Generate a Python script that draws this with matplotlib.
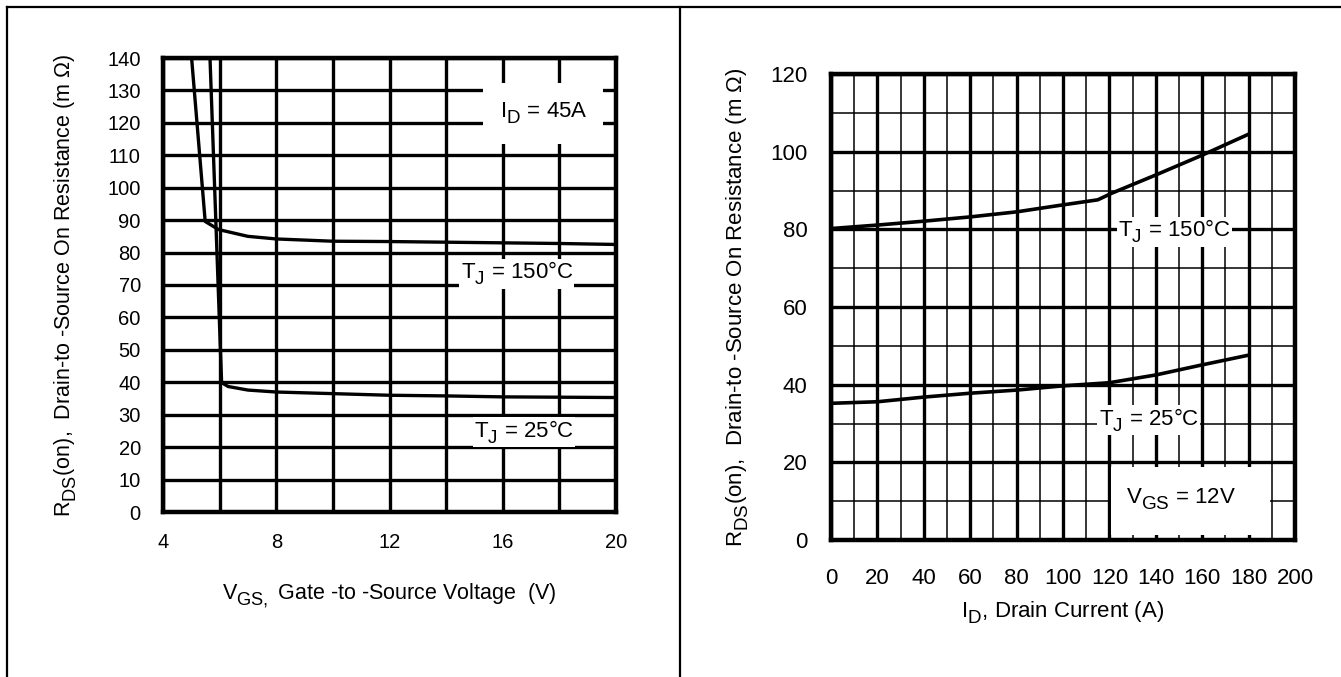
import matplotlib
matplotlib.use("Agg")
import matplotlib.pyplot as plt
import matplotlib._mathtext as mathtext_internal
from matplotlib.patches import Rectangle
from matplotlib.lines import Line2D

plt.rcParams['font.family'] = ['Liberation Sans', 'DejaVu Sans']
plt.rcParams['mathtext.fontset'] = 'custom'
plt.rcParams['mathtext.rm'] = 'Liberation Sans'
plt.rcParams['mathtext.it'] = 'Liberation Sans'
# datasheet subscripts are nearly full size and sit low
mathtext_internal.SHRINK_FACTOR = 0.85
mathtext_internal.FontConstantsBase.sub1 = 0.55
mathtext_internal.FontConstantsBase.sub2 = 0.65

# left chart: Rds(on) vs Vgs, Id = 45A
vgs_150 = [5.01, 5.49, 5.96, 7.0, 8.0, 10.0, 12.0, 14.0, 16.0, 18.0, 20.0]
rds_150 = [140, 89.6, 87.1, 85.0, 84.2, 83.5, 83.4, 83.2, 83.0, 82.8, 82.5]
vgs_25 = [5.66, 6.07, 6.3, 7.0, 8.0, 10.0, 12.0, 14.0, 16.0, 18.0, 20.0]
rds_25 = [140, 39.9, 38.7, 37.6, 37.0, 36.5, 36.0, 35.8, 35.5, 35.4, 35.3]

# right chart: Rds(on) vs Id, Vgs = 12V
id_150 = [0, 20, 40, 60, 80, 100, 115, 121, 140, 160, 180]
rid_150 = [80.2, 81.1, 82.1, 83.2, 84.5, 86.3, 87.6, 89.3, 94.0, 99.1, 104.5]
id_25 = [0, 20, 40, 60, 80, 100, 120, 140, 160, 180]
rid_25 = [35.2, 35.6, 36.8, 37.8, 38.6, 39.7, 40.5, 42.5, 45.1, 47.6]

left_xticks = [4, 8, 12, 16, 20]
left_yticks = list(range(0, 141, 10))
right_xticks = list(range(0, 201, 20))
right_yticks = list(range(0, 121, 20))

W, H = 1341, 677
fig = plt.figure(figsize=(W / 100, H / 100), dpi=100)

def box(l, t, r, b):
    return [l / W, 1 - b / H, (r - l) / W, (b - t) / H]

ylab = r'R$_{\mathrm{DS}}$(on),  Drain-to -Source On Resistance (m $\Omega$)'

# ---- left
ax1 = fig.add_axes(box(163, 58, 616, 512))
ax1.set_xlim(4, 20)
ax1.set_ylim(0, 140)
ax1.set_xticks(left_xticks)
ax1.set_xticks([6, 10, 14, 18], minor=True)
ax1.set_yticks(left_yticks)
ax1.set_axisbelow(True)
ax1.grid(which='both', color='black', lw=2.4)
ax1.tick_params(which='both', length=0, labelsize=14.5)
ax1.tick_params(axis='x', pad=15)
ax1.tick_params(axis='y', pad=16)
for s in ax1.spines.values():
    s.set_linewidth(3.2)
ax1.plot(vgs_150, rds_150, color='black', lw=2.4, zorder=2)
ax1.plot(vgs_25, rds_25, color='black', lw=2.4, zorder=2)
ax1.add_patch(Rectangle((15.3, 113.4), 4.25, 18.8, facecolor='white', edgecolor='none', zorder=1))
ax1.text(17.45, 123, r'I$_{\mathrm{D}}$ = 45A', fontsize=16, ha='center', va='center', zorder=3)
ax1.text(16.5, 73.5, r'T$_{\mathrm{J}}$ = 150°C', fontsize=16, ha='center', va='center', zorder=3,
         bbox=dict(facecolor='white', edgecolor='none', pad=1.0))
ax1.text(16.75, 24.6, r'T$_{\mathrm{J}}$ = 25°C', fontsize=16, ha='center', va='center', zorder=3,
         bbox=dict(facecolor='white', edgecolor='none', pad=1.0))
ax1.set_xlabel(r'V$_{\mathrm{GS,}}$ Gate -to -Source Voltage  (V)', fontsize=15.5, labelpad=22)
ax1.set_ylabel(ylab, fontsize=15.5, labelpad=20)

# ---- right
ax2 = fig.add_axes(box(831, 74, 1295, 540))
ax2.set_xlim(0, 200)
ax2.set_ylim(0, 120)
ax2.set_xticks(right_xticks)
ax2.set_xticks(list(range(10, 200, 20)), minor=True)
ax2.set_yticks(right_yticks)
ax2.set_yticks(list(range(10, 120, 20)), minor=True)
ax2.set_axisbelow(True)
ax2.grid(which='major', color='black', lw=2.4)
ax2.grid(which='minor', color='black', lw=1.1)
ax2.tick_params(which='both', length=0, labelsize=16)
ax2.tick_params(axis='x', pad=20)
ax2.tick_params(axis='y', pad=17)
for s in ax2.spines.values():
    s.set_linewidth(3.2)
ax2.plot(id_150, rid_150, color='black', lw=2.6, zorder=2)
ax2.plot(id_25, rid_25, color='black', lw=2.6, zorder=2)
ax2.add_patch(Rectangle((120.6, 1.4), 68.6, 17.3, facecolor='white', edgecolor='none', zorder=1))
ax2.text(151, 10.5, r'V$_{\mathrm{GS}}$ = 12V', fontsize=16, ha='center', va='center', zorder=3)
ax2.text(148, 79.4, r'T$_{\mathrm{J}}$ = 150°C', fontsize=16, ha='center', va='center', zorder=3,
         bbox=dict(facecolor='white', edgecolor='none', pad=1.0))
ax2.text(137, 30.9, r'T$_{\mathrm{J}}$ = 25°C', fontsize=16, ha='center', va='center', zorder=3,
         bbox=dict(facecolor='white', edgecolor='none', pad=1.0))
ax2.set_xlabel(r'I$_{\mathrm{D}}$, Drain Current (A)', fontsize=16, labelpad=8)
ax2.set_ylabel(ylab, fontsize=16, labelpad=14)

# page frame lines
fig.add_artist(Line2D([7 / W, 1], [1 - 7 / H, 1 - 7 / H], color='black', lw=1.6))
fig.add_artist(Line2D([7 / W, 7 / W], [0, 1 - 7 / H], color='black', lw=1.6))
fig.add_artist(Line2D([680 / W, 680 / W], [0, 1 - 7 / H], color='black', lw=1.6))

fig.savefig('out.png', dpi=100)
